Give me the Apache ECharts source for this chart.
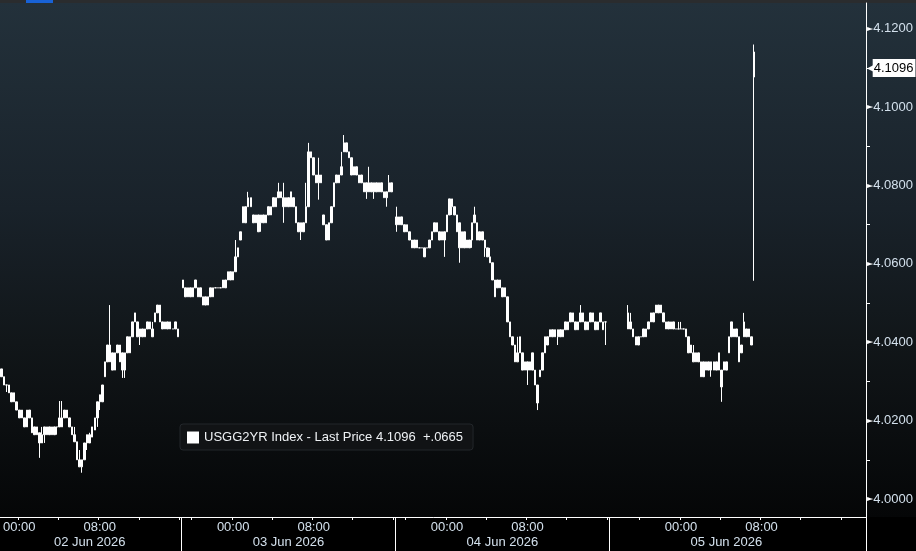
<!DOCTYPE html>
<html><head><meta charset="utf-8">
<script src="https://cdn.jsdelivr.net/npm/echarts@6/dist/echarts.min.js"></script>
<style>html,body{margin:0;padding:0;background:#000;}#c{width:916px;height:551px;}</style>
</head><body><div id="c"></div>
<script>
// ---------- data ----------
const seriesName = 'USGG2YR Index';
const lastPrice = 4.1096;
const netChange = 0.0665;

const yLabelValues = [4.00, 4.02, 4.04, 4.06, 4.08, 4.10, 4.12];
const yTickValues = [4.01, 4.03, 4.05, 4.07, 4.09, 4.11];

// trading sessions: 15-minute slots, shown back to back
const sessionDates = ['02 Jun 2026', '03 Jun 2026', '04 Jun 2026', '05 Jun 2026'];
const sessionIsoDates = ['2026-06-02', '2026-06-03', '2026-06-04', '2026-06-05'];
const sessionStarts = ['2026-06-01T22:15:00Z', '2026-06-02T19:00:00Z', '2026-06-03T19:00:00Z', '2026-06-04T17:00:00Z'];
const sessionSlots = [72, 85, 85, 102];

// bars: [open, close, low, high], null = no trade
const session1Bars = [
 [4.0332,4.0312,4.0312,4.0332],[4.0312,4.0291,4.0291,4.0312],[4.0291,4.0291,4.0273,4.0291],[4.0291,4.0271,4.0271,4.0291],
 [4.0271,4.0248,4.0248,4.0271],[4.0248,4.0271,4.0248,4.0271],[4.0248,4.0227,4.0227,4.0248],[4.0227,4.0207,4.0207,4.0227],
 [4.0207,4.0227,4.0207,4.0227],[4.0207,4.0184,4.0184,4.0207],[4.0184,4.0227,4.0184,4.0227],[4.0227,4.0207,4.0207,4.0227],
 [4.0207,4.0169,4.0169,4.0207],[4.0184,4.0164,4.0164,4.0184],[4.0164,4.0184,4.0164,4.0184],[4.0169,4.0143,4.0105,4.0169],
 [4.0143,4.0164,4.0143,4.0184],[4.0164,4.0184,4.0143,4.0184],[4.0184,4.0164,4.0164,4.0184],[4.0164,4.0184,4.0164,4.0184],
 [4.0184,4.0164,4.0164,4.0184],[4.0164,4.0184,4.0164,4.0184],[4.0184,4.0184,4.0164,4.0184],[4.0184,4.0207,4.0184,4.0250],
 [4.0207,4.0184,4.0184,4.0250],[4.0207,4.0227,4.0207,4.0227],[4.0227,4.0207,4.0207,4.0227],[4.0207,4.0184,4.0184,4.0207],
 [4.0184,4.0164,4.0164,4.0184],[4.0164,4.0146,4.0146,4.0184],[4.0146,4.0100,4.0100,4.0146],[4.0100,4.0082,4.0082,4.0125],
 [4.0082,4.0100,4.0067,4.0100],[4.0100,4.0143,4.0100,4.0143],[4.0143,4.0164,4.0125,4.0164],[4.0164,4.0143,4.0143,4.0169],
 [4.0158,4.0184,4.0158,4.0184],[4.0176,4.0207,4.0176,4.0207],[4.0207,4.0248,4.0184,4.0248],[4.0248,4.0266,4.0227,4.0266],
 [4.0248,4.0291,4.0248,4.0291],[4.0312,4.0350,4.0312,4.0350],[4.0350,4.0393,4.0350,4.0393],[4.0393,4.0350,4.0350,4.0495],
 [4.0373,4.0329,4.0329,4.0373],[4.0329,4.0373,4.0329,4.0373],[4.0373,4.0393,4.0373,4.0393],[4.0393,4.0350,4.0350,4.0393],
 [4.0373,4.0329,4.0309,4.0373],[4.0329,4.0373,4.0309,4.0373],[4.0373,4.0414,4.0373,4.0414],[4.0414,4.0373,4.0373,4.0414],
 [4.0414,4.0452,4.0414,4.0452],[4.0452,4.0475,4.0452,4.0475],[4.0452,4.0414,4.0414,4.0452],[4.0414,4.0434,4.0393,4.0434],
 [4.0434,4.0414,4.0414,4.0434],[4.0414,4.0434,4.0414,4.0434],[4.0434,4.0452,4.0434,4.0452],[4.0452,4.0434,4.0434,4.0452],
 [4.0434,4.0414,4.0414,4.0452],[4.0452,4.0475,4.0452,4.0475],[4.0475,4.0495,4.0475,4.0495],[4.0495,4.0452,4.0452,4.0495],
 [4.0452,4.0434,4.0434,4.0452],[4.0434,4.0452,4.0434,4.0452],[4.0452,4.0434,4.0434,4.0452],[4.0434,4.0452,4.0434,4.0452],
 [4.0434,4.0434,4.0434,4.0434],[4.0434,4.0452,4.0434,4.0452],[4.0434,4.0414,4.0414,4.0434],null
];
const session2Bars = [
 [4.0559,4.0539,4.0539,4.0559],[4.0539,4.0516,4.0516,4.0539],[4.0516,4.0539,4.0516,4.0539],[4.0539,4.0516,4.0516,4.0539],
 [4.0516,4.0539,4.0516,4.0539],[4.0539,4.0559,4.0539,4.0559],[4.0539,4.0516,4.0516,4.0539],[4.0516,4.0539,4.0516,4.0539],
 [4.0516,4.0495,4.0495,4.0516],[4.0495,4.0516,4.0495,4.0516],[4.0516,4.0495,4.0495,4.0516],[4.0516,4.0539,4.0516,4.0539],
 [4.0539,4.0516,4.0516,4.0539],[4.0539,4.0539,4.0539,4.0539],[4.0539,4.0539,4.0539,4.0539],[4.0539,4.0539,4.0539,4.0539],
 [4.0539,4.0559,4.0539,4.0559],[4.0559,4.0539,4.0539,4.0559],[4.0559,4.0580,4.0559,4.0580],[4.0580,4.0559,4.0559,4.0580],
 [4.0559,4.0580,4.0559,4.0580],[4.0580,4.0618,4.0580,4.0661],[4.0618,4.0641,4.0618,4.0641],[4.0661,4.0682,4.0661,4.0682],
 [4.0705,4.0746,4.0705,4.0746],[4.0746,4.0705,4.0705,4.0746],[4.0746,4.0769,4.0746,4.0784],[4.0769,4.0746,4.0746,4.0769],
 [4.0725,4.0705,4.0705,4.0725],[4.0705,4.0725,4.0705,4.0725],[4.0725,4.0682,4.0682,4.0725],[4.0705,4.0725,4.0682,4.0725],
 [4.0725,4.0705,4.0705,4.0725],[4.0705,4.0725,4.0705,4.0725],[4.0725,4.0746,4.0725,4.0746],[4.0746,4.0725,4.0725,4.0746],
 [4.0746,4.0769,4.0746,4.0769],[4.0769,4.0746,4.0746,4.0769],[4.0769,4.0784,4.0769,4.0807],[4.0784,4.0769,4.0769,4.0784],
 [4.0769,4.0746,4.0705,4.0807],[4.0746,4.0769,4.0746,4.0769],[4.0769,4.0746,4.0746,4.0769],[4.0746,4.0784,4.0746,4.0784],
 [4.0769,4.0746,4.0746,4.0769],[4.0746,4.0705,4.0705,4.0746],[4.0705,4.0682,4.0682,4.0705],[4.0682,4.0705,4.0661,4.0705],
 [4.0705,4.0682,4.0682,4.0705],[4.0705,4.0746,4.0705,4.0807],[4.0746,4.0886,4.0746,4.0909],[4.0886,4.0871,4.0871,4.0886],
 [4.0871,4.0827,4.0827,4.0871],[4.0827,4.0807,4.0807,4.0827],[4.0807,4.0827,4.0764,4.0871],[4.0827,4.0807,4.0807,4.0827],
 [4.0725,4.0700,4.0700,4.0725],[4.0700,4.0661,4.0661,4.0700],[4.0661,4.0705,4.0661,4.0705],[4.0705,4.0746,4.0705,4.0746],
 [4.0746,4.0807,4.0746,4.0807],[4.0807,4.0827,4.0807,4.0827],[4.0827,4.0807,4.0807,4.0827],[4.0827,4.0848,4.0827,4.0886],
 [4.0886,4.0909,4.0886,4.0929],[4.0909,4.0886,4.0886,4.0909],[4.0886,4.0871,4.0871,4.0886],[4.0871,4.0827,4.0827,4.0871],
 [4.0827,4.0848,4.0827,4.0848],[4.0848,4.0827,4.0827,4.0848],[4.0827,4.0807,4.0807,4.0827],[4.0807,4.0827,4.0807,4.0827],
 [4.0807,4.0784,4.0784,4.0807],[4.0784,4.0807,4.0766,4.0807],[4.0807,4.0784,4.0784,4.0848],[4.0784,4.0807,4.0784,4.0807],
 [4.0807,4.0784,4.0766,4.0807],[4.0784,4.0807,4.0784,4.0807],[4.0807,4.0784,4.0784,4.0807],[4.0784,4.0807,4.0784,4.0807],
 [4.0784,4.0769,4.0769,4.0784],[4.0769,4.0784,4.0746,4.0784],[4.0784,4.0807,4.0784,4.0827],[4.0807,4.0784,4.0784,4.0807],
 null
];
const session3Bars = [
 [4.0700,4.0720,4.0682,4.0746],[4.0720,4.0700,4.0700,4.0720],[4.0700,4.0720,4.0700,4.0720],[4.0700,4.0682,4.0682,4.0700],
 [4.0682,4.0700,4.0682,4.0700],[4.0682,4.0661,4.0661,4.0682],[4.0661,4.0641,4.0641,4.0661],[4.0641,4.0661,4.0641,4.0661],
 [4.0661,4.0641,4.0641,4.0661],[4.0641,4.0641,4.0641,4.0641],[4.0641,4.0641,4.0641,4.0641],[4.0641,4.0618,4.0618,4.0641],
 [4.0641,4.0641,4.0641,4.0641],[4.0641,4.0661,4.0641,4.0661],[4.0661,4.0682,4.0661,4.0682],[4.0682,4.0705,4.0682,4.0705],
 [4.0705,4.0682,4.0682,4.0705],[4.0682,4.0661,4.0661,4.0682],[4.0661,4.0682,4.0661,4.0682],[4.0682,4.0661,4.0618,4.0682],
 [4.0682,4.0725,4.0682,4.0725],[4.0725,4.0766,4.0725,4.0766],[4.0766,4.0746,4.0725,4.0766],[4.0746,4.0725,4.0725,4.0746],
 [4.0725,4.0682,4.0682,4.0725],[4.0705,4.0641,4.0603,4.0705],[4.0641,4.0682,4.0641,4.0682],[4.0682,4.0641,4.0641,4.0682],
 [4.0641,4.0661,4.0641,4.0661],[4.0661,4.0641,4.0641,4.0661],[4.0661,4.0705,4.0641,4.0705],[4.0705,4.0725,4.0705,4.0746],
 [4.0705,4.0661,4.0661,4.0705],[4.0661,4.0682,4.0661,4.0682],[4.0682,4.0661,4.0661,4.0682],[4.0661,4.0641,4.0618,4.0661],
 [4.0641,4.0618,4.0618,4.0641],[4.0618,4.0603,4.0603,4.0641],[4.0603,4.0559,4.0559,4.0603],[4.0559,4.0516,4.0516,4.0559],
 [4.0539,4.0559,4.0539,4.0559],[4.0559,4.0539,4.0539,4.0559],[4.0539,4.0516,4.0516,4.0539],[4.0516,4.0539,4.0516,4.0539],
 [4.0516,4.0452,4.0452,4.0516],[4.0452,4.0414,4.0414,4.0452],[4.0414,4.0393,4.0393,4.0414],[4.0393,4.0350,4.0350,4.0393],
 [4.0350,4.0373,4.0350,4.0414],[4.0414,4.0373,4.0373,4.0414],[4.0373,4.0329,4.0329,4.0373],[4.0350,4.0329,4.0329,4.0350],
 [4.0329,4.0350,4.0291,4.0350],[4.0350,4.0329,4.0329,4.0350],[4.0329,4.0373,4.0329,4.0373],[4.0329,4.0291,4.0291,4.0329],
 [4.0291,4.0245,4.0227,4.0291],[4.0312,4.0329,4.0312,4.0329],[4.0329,4.0373,4.0329,4.0373],[4.0373,4.0414,4.0373,4.0414],
 [4.0414,4.0393,4.0393,4.0414],[4.0414,4.0432,4.0414,4.0432],[4.0432,4.0414,4.0414,4.0432],[4.0414,4.0432,4.0414,4.0432],
 [4.0432,4.0414,4.0393,4.0432],[4.0414,4.0432,4.0414,4.0432],[4.0432,4.0414,4.0414,4.0432],[4.0432,4.0452,4.0432,4.0452],
 [4.0452,4.0432,4.0432,4.0452],[4.0452,4.0475,4.0452,4.0475],[4.0475,4.0452,4.0452,4.0475],[4.0452,4.0432,4.0432,4.0452],
 [4.0432,4.0452,4.0432,4.0452],[4.0452,4.0475,4.0452,4.0495],[4.0475,4.0452,4.0452,4.0475],[4.0452,4.0432,4.0432,4.0452],
 [4.0432,4.0452,4.0432,4.0452],[4.0452,4.0475,4.0452,4.0475],[4.0475,4.0452,4.0452,4.0475],[4.0452,4.0432,4.0432,4.0452],
 [4.0432,4.0452,4.0432,4.0452],[4.0452,4.0475,4.0452,4.0475],[4.0452,4.0432,4.0432,4.0452],[4.0452,4.0452,4.0393,4.0452],
 null
];
const session4Bars = [
 null,null,null,null,null,null,null,
 [4.0475,4.0434,4.0434,4.0495],[4.0452,4.0434,4.0434,4.0475],[4.0434,4.0414,4.0414,4.0434],[4.0414,4.0393,4.0393,4.0414],
 [4.0393,4.0414,4.0393,4.0414],[4.0414,4.0414,4.0414,4.0414],[4.0414,4.0434,4.0414,4.0434],[4.0434,4.0414,4.0414,4.0434],
 [4.0434,4.0452,4.0434,4.0452],[4.0452,4.0475,4.0452,4.0475],[4.0475,4.0452,4.0452,4.0475],[4.0475,4.0495,4.0475,4.0495],
 [4.0495,4.0475,4.0475,4.0495],[4.0475,4.0495,4.0475,4.0495],[4.0475,4.0452,4.0452,4.0475],[4.0452,4.0434,4.0434,4.0452],
 [4.0452,4.0434,4.0434,4.0452],[4.0434,4.0452,4.0434,4.0452],[4.0452,4.0434,4.0434,4.0452],[4.0434,4.0434,4.0434,4.0434],
 [4.0434,4.0434,4.0434,4.0452],[4.0434,4.0434,4.0434,4.0452],[4.0434,4.0434,4.0434,4.0434],[4.0434,4.0414,4.0414,4.0434],
 [4.0414,4.0373,4.0373,4.0414],[4.0393,4.0373,4.0373,4.0393],[4.0373,4.0350,4.0350,4.0393],[4.0373,4.0350,4.0350,4.0373],
 [4.0350,4.0373,4.0350,4.0373],[4.0350,4.0312,4.0312,4.0350],[4.0312,4.0350,4.0312,4.0350],[4.0350,4.0329,4.0329,4.0350],
 [4.0329,4.0350,4.0329,4.0350],[4.0350,4.0329,4.0312,4.0350],[4.0329,4.0350,4.0329,4.0350],[4.0350,4.0329,4.0329,4.0350],
 [4.0329,4.0373,4.0329,4.0373],[4.0329,4.0286,4.0248,4.0329],[4.0329,4.0350,4.0329,4.0350],[4.0350,4.0329,4.0329,4.0350],
 [4.0373,4.0414,4.0373,4.0414],[4.0414,4.0452,4.0414,4.0452],[4.0434,4.0414,4.0414,4.0434],[4.0414,4.0434,4.0414,4.0434],
 [4.0414,4.0350,4.0350,4.0414],[4.0373,4.0393,4.0373,4.0393],[4.0414,4.0452,4.0414,4.0475],[4.0434,4.0414,4.0414,4.0434],
 [4.0414,4.0434,4.0414,4.0434],[4.0414,4.0393,4.0393,4.0414],
 [4.1077,4.1141,4.0557,4.1160]
];

// ---------- build ----------
const FONT = 'Liberation Sans';
const LABEL_COLOR = '#d3e0ec';
function pad(n) { return (n < 10 ? '0' : '') + n; }
const categories = [];
sessionStarts.forEach((s, si) => {
  const t0 = new Date(s).getTime();
  for (let k = 0; k < sessionSlots[si]; k++) {
    const d = new Date(t0 + k * 15 * 60000);
    categories.push(d.getUTCFullYear() + '-' + pad(d.getUTCMonth() + 1) + '-' + pad(d.getUTCDate()) + ' ' + pad(d.getUTCHours()) + ':' + pad(d.getUTCMinutes()));
  }
});
const allBars = [session1Bars, session2Bars, session3Bars, session4Bars];
const candleData = [];
allBars.forEach((bars, si) => {
  for (let k = 0; k < sessionSlots[si]; k++) {
    const b = bars[k];
    candleData.push(b ? b : '-');
  }
});
const sessionStartIdx = [];
let acc = 0;
sessionSlots.forEach(n => { sessionStartIdx.push(acc); acc += n; });
const dayLabelIdx = {};
sessionIsoDates.forEach((iso, si) => {
  const endIdx = categories.indexOf(iso + ' 16:00');
  dayLabelIdx[Math.floor((sessionStartIdx[si] + endIdx) / 2)] = sessionDates[si];
});
const separatorIdx = sessionStartIdx.slice(1);
function hm(v) { return v.slice(11); }

const chart = echarts.init(document.getElementById('c'), null, { renderer: 'canvas' });
const legendText = seriesName + ' - Last Price ' + lastPrice.toFixed(4) + '  +' + netChange.toFixed(4).replace(/^0/, '');

chart.setOption({
  animation: false,
  backgroundColor: '#000',
  graphic: [
    { type: 'rect', z: -10, silent: true, shape: { x: 0, y: 3, width: 916, height: 514 },
      style: { fill: new echarts.graphic.LinearGradient(0, 0, 0, 1, [
        { offset: 0, color: '#23313b' }, { offset: 0.4, color: '#19222a' },
        { offset: 0.66, color: '#111619' }, { offset: 1, color: '#050607' }]) } },
    { type: 'rect', z: -10, silent: true, shape: { x: 0, y: 0, width: 916, height: 3 }, style: { fill: '#2a2c2e' } },
    { type: 'rect', z: -9, silent: true, shape: { x: 26, y: 0, width: 27, height: 3 }, style: { fill: '#1862d6' } }
  ],
  grid: { left: 0, right: 50, top: 3, bottom: 34, containLabel: false },
  legend: {
    left: 180, top: 424, padding: [7, 10, 6, 7],
    backgroundColor: '#111315', borderColor: '#23272b', borderWidth: 1, borderRadius: 3,
    icon: 'rect', itemWidth: 12, itemHeight: 12, itemGap: 5,
    itemStyle: { color: '#ffffff', borderWidth: 0 },
    textStyle: { color: '#eef1f4', fontSize: 13, fontFamily: FONT },
    selectedMode: false,
    data: [{ name: legendText }]
  },
  xAxis: [
    {
      type: 'category', data: categories, boundaryGap: true,
      axisLine: { lineStyle: { color: '#ffffff', width: 1 } },
      axisTick: { show: true, length: 3, lineStyle: { color: '#ffffff' },
        interval: (i, v) => { const h = +v.slice(11, 13), m = +v.slice(14, 16); return m === 0 && h % 4 === 0; } },
      axisLabel: { color: LABEL_COLOR, fontFamily: FONT, fontSize: 13, margin: 4,
        interval: (i, v) => { const t = hm(v); return t === '00:00' || t === '08:00'; },
        formatter: v => hm(v) },
      splitLine: { show: false }
    },
    {
      type: 'category', data: categories, boundaryGap: true, position: 'bottom', offset: 0,
      axisLine: { show: false },
      axisTick: { show: true, length: 34, lineStyle: { color: '#ffffff' },
        interval: (i) => separatorIdx.indexOf(i) >= 0 },
      axisLabel: { color: LABEL_COLOR, fontFamily: FONT, fontSize: 13, margin: 19,
        interval: (i) => dayLabelIdx[i] !== undefined,
        formatter: (v, i) => dayLabelIdx[i] || '' },
      splitLine: { show: false }
    }
  ],
  yAxis: {
    type: 'value', position: 'right', min: 3.9954, max: 4.1266, scale: true,
    axisLine: { show: true, lineStyle: { color: '#ffffff', width: 1 } },
    axisTick: { show: true, length: 4, lineStyle: { color: '#ffffff' }, customValues: yTickValues },
    axisLabel: { customValues: yLabelValues, margin: 1, color: LABEL_COLOR, fontFamily: FONT, fontSize: 13,
      formatter: v => '{t|\u25BA}{v|' + v.toFixed(4) + '}',
      rich: { t: { color: '#ffffff', fontSize: 8, fontFamily: 'DejaVu Sans' }, v: { color: LABEL_COLOR, fontSize: 13, fontFamily: FONT } } },
    splitLine: { show: false }
  },
  series: [{
    name: legendText,
    type: 'candlestick',
    xAxisIndex: 0,
    clip: false,
    data: candleData,
    barWidth: 2,
    itemStyle: { color: '#ffffff', color0: '#ffffff', borderColor: '#ffffff', borderColor0: '#ffffff', borderWidth: 1 },
    markLine: {
      silent: true, symbol: ['none', 'none'], animation: false,
      lineStyle: { color: 'rgba(0,0,0,0)', width: 1, type: 'solid' },
      label: { show: true, position: 'end', distance: 1,
        formatter: '{a|\u25C0}{b|' + lastPrice.toFixed(4) + '}',
        rich: {
          a: { color: '#ffffff', fontSize: 10, fontFamily: 'DejaVu Sans', padding: [0, -2, 0, 0] },
          b: { color: '#000000', backgroundColor: '#ffffff', padding: [3, 2, 2, 1], fontFamily: FONT, fontSize: 13 }
        } },
      data: [{ yAxis: lastPrice }]
    }
  }]
});
</script>
</body></html>
